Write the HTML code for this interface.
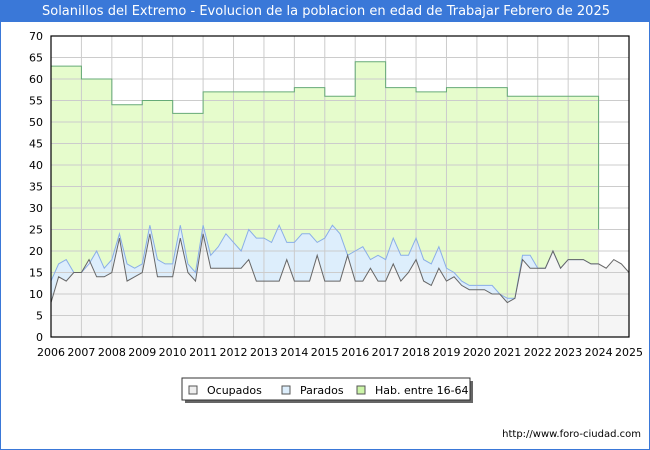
<!DOCTYPE html>
<html><head><meta charset="utf-8"><style>
body{margin:0;background:#fff;font-family:"DejaVu Sans","Liberation Sans",sans-serif}
#wrap{position:relative;width:650px;height:450px;box-sizing:border-box;border:1px solid #3a78d8;border-top:none}
#title{position:absolute;left:0;top:0;width:650px;height:22px;background:#3a78d8;color:#fff;font-size:13px;text-align:center;line-height:23px}
svg text{font-family:"DejaVu Sans","Liberation Sans",sans-serif}
</style></head><body>
<div id="wrap">
<div id="title">Solanillos del Extremo - Evolucion de la poblacion en edad de Trabajar Febrero de 2025</div>
<svg id="svg" width="650" height="450" style="position:absolute;left:0;top:0"></svg>
</div>
<script>
const habYears=[2006,2007,2008,2009,2010,2011,2012,2013,2014,2015,2016,2017,2018,2019,2020,2021,2022,2023];
const habValues=[63,60,54,55,52,57,57,57,58,56,64,58,57,58,58,56,56,56];
const ocupados=[8,14,13,15, 15,18,14,14, 15,23,13,14, 15,24,14,14, 14,23,15,13, 24,16,16,16, 16,16,18,13, 13,13,13,18, 13,13,13,19, 13,13,13,19, 13,13,16,13, 13,17,13,15, 18,13,12,16, 13,14,12,11, 11,11,10,10, 8,9,18,16, 16,16,20,16, 18,18,18,17, 17,16,18,17, 15];
const totalActivos=[13,17,18,15, 15,17,20,16, 18,24,17,16, 17,26,18,17, 17,26,17,15, 26,19,21,24, 22,20,25,23, 23,22,26,22, 22,24,24,22, 23,26,24,19, 20,21,18,19, 18,23,19,19, 23,18,17,21, 16,15,13,12, 12,12,12,10, 9,9,19,19, 16,16,20,16, 18,18,18,17, 17];
const parados=totalActivos.map((t,i)=>t-ocupados[i]);
const yTicks=[0,5,10,15,20,25,30,35,40,45,50,55,60,65,70];
const xTicks=[2006,2007,2008,2009,2010,2011,2012,2013,2014,2015,2016,2017,2018,2019,2020,2021,2022,2023,2024,2025];
const X0=50,X1=628,Y0=337,Y1=36;
const xs=y=>X0+(y-2006)/19*(X1-X0);
const ys=v=>Y0-v/70*(Y0-Y1);
const svg=document.getElementById('svg');const NS='http://www.w3.org/2000/svg';
function mk(t,a,name,txt){const e=document.createElementNS(NS,t);for(const k in a)e.setAttribute(k,a[k]);


if(txt!==undefined)e.textContent=txt;svg.appendChild(e);return e;}
mk('rect',{x:X0,y:Y1,width:X1-X0,height:Y0-Y1,fill:'#fff'},'plot-background');
let hp=`M${xs(2006)},${ys(0)}`;
habYears.forEach((y,i)=>{hp+=` L${xs(y)},${ys(habValues[i])} L${xs(y+1)},${ys(habValues[i])}`;});
hp+=` L${xs(2024)},${ys(25)} L${xs(2024)},${ys(0)} Z`;
mk('path',{d:hp,fill:'#e6fccc',stroke:'none'},'hab-area');
let hl=`M${xs(2006)},${ys(habValues[0])}`;
habYears.forEach((y,i)=>{hl+=` L${xs(y)},${ys(habValues[i])} L${xs(y+1)},${ys(habValues[i])}`;});
hl+=` L${xs(2024)},${ys(25)}`;
const tq=i=>2006+i*0.25;
const np=totalActivos.length;
let pp=`M${xs(tq(0))},${ys(ocupados[0]+parados[0])}`;
for(let i=1;i<np;i++)pp+=` L${xs(tq(i))},${ys(ocupados[i]+parados[i])}`;
for(let i=np-1;i>=0;i--)pp+=` L${xs(tq(i))},${ys(ocupados[i])}`;
mk('path',{d:pp+' Z',fill:'#ddeefc',stroke:'none'},'parados-area');
let op=`M${xs(tq(0))},${ys(0)}`;
for(let i=0;i<ocupados.length;i++)op+=` L${xs(tq(i))},${ys(ocupados[i])}`;
op+=` L${xs(tq(ocupados.length-1))},${ys(0)} Z`;
mk('path',{d:op,fill:'#f5f5f5',stroke:'none'},'ocupados-area');
yTicks.forEach(v=>{mk('line',{x1:X0,x2:X1,y1:ys(v),y2:ys(v),stroke:'#ccc'},'y-gridline');
mk('text',{x:X0-8,y:ys(v)+4,'text-anchor':'end','font-size':11,fill:'#000'},'y-tick-label',v);});
xTicks.forEach(y=>{mk('line',{x1:xs(y),x2:xs(y),y1:Y1,y2:Y0,stroke:'#ccc'},'x-gridline');
mk('text',{x:xs(y),y:Y0+19,'text-anchor':'middle','font-size':11,fill:'#000'},'x-tick-label',y);});
mk('path',{d:hl,fill:'none',stroke:'#66aa77','stroke-width':1},'hab-line');
let tl=`M${xs(tq(0))},${ys(ocupados[0]+parados[0])}`;
for(let i=1;i<np;i++)tl+=` L${xs(tq(i))},${ys(ocupados[i]+parados[i])}`;
mk('path',{d:tl,fill:'none',stroke:'#8aaee8','stroke-width':1},'parados-line');
let ol=`M${xs(tq(0))},${ys(ocupados[0])}`;
for(let i=1;i<ocupados.length;i++)ol+=` L${xs(tq(i))},${ys(ocupados[i])}`;
mk('path',{d:ol,fill:'none',stroke:'#666','stroke-width':1},'ocupados-line');
mk('rect',{x:X0,y:Y1,width:X1-X0,height:Y0-Y1,fill:'none',stroke:'#000','stroke-width':1.2},'plot-border');
mk('rect',{x:184,y:381,width:288,height:22,fill:'#666'},'legend-shadow');
mk('rect',{x:181,y:378,width:288,height:22,fill:'#fff',stroke:'#333'},'legend-box');
const leg=[['Ocupados','#eeeeee',188],['Parados','#ddeefc',281],['Hab. entre 16-64','#ccf5a8',356]];
leg.forEach(l=>{mk('rect',{x:l[2],y:386,width:8,height:8,fill:l[1],stroke:'#555'},'legend-swatch');
mk('text',{x:l[2]+18,y:394,'font-size':11,fill:'#000'},'legend-entry',l[0]);});
mk('text',{x:640,y:437,'text-anchor':'end','font-size':10,fill:'#000'},'source-url','http://www.foro-ciudad.com');
</script>
</body></html>
